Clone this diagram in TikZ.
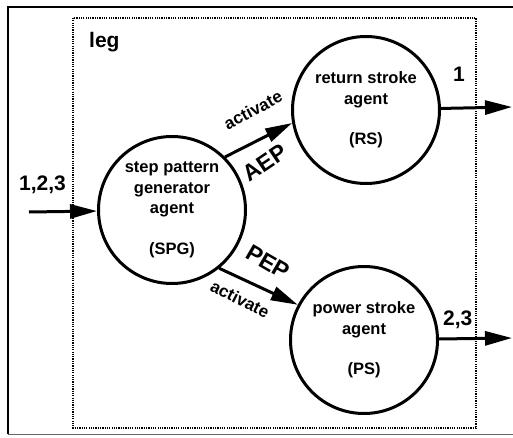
\documentclass[tikz,border=0pt]{standalone}
\usepackage{fontspec}
\setmainfont{Liberation Sans}
\usetikzlibrary{arrows.meta}
\begin{document}
\begin{tikzpicture}[x=1pt,y=-1pt,
  agent/.style={circle,draw,line width=3pt,minimum size=147pt,inner sep=0pt,align=center,
    font=\bfseries\fontsize{16.5}{20.5}\selectfont},
  flow/.style={line width=3pt,-{Triangle[length=27pt,width=14pt]}},
  biglabel/.style={font=\bfseries\fontsize{21}{21}\selectfont,inner sep=0pt},
  eventlabel/.style={font=\bfseries\fontsize{23}{23}\selectfont,inner sep=0pt},
  actlabel/.style={font=\bfseries\fontsize{17}{17}\selectfont,inner sep=0pt},
  dotbox/.style={line width=1.7pt,dash pattern=on 1.2pt off 1.1pt}
]
\clip (0,0) rectangle (513,438);
\useasboundingbox (0,0) rectangle (513,438);
% outer frame
\draw[line width=2pt] (520,7) -- (8,7) -- (8,434);
\draw[line width=1pt,black!60] (8,434) -- (520,434);
% dotted leg box
\draw[dotbox] (73,18) rectangle (476,428);
\node[anchor=base west,inner sep=0pt,font=\bfseries\fontsize{21}{21}\selectfont] (leg) at (89,48) {leg};
% agents
\node[agent] (SPG) at (172,210) {step pattern\\generator\\agent\\[20pt](SPG)};
\node[agent] (RS) at (366,110) {return stroke\\agent\\[20pt](RS)};
\node[agent] (PS) at (364,340) {power stroke\\agent\\[20pt](PS)};
% free ends
\coordinate (in) at (29,212);
\coordinate (out1) at (512,107);
\coordinate (out2) at (512,338);
% connectors
\draw[flow] (in) -- (SPG);
\draw[flow] (SPG.45) -- (RS.190);
\draw[flow] (SPG.-51) -- (PS.152);
\draw[flow] (RS) -- (out1);
\draw[flow] (PS) -- (out2);
% labels
\node[biglabel,anchor=base west] (l123) at (19,191) {1,2,3};
\node[biglabel,anchor=base west] (l1) at (453,82) {1};
\node[biglabel,anchor=base west] (l23) at (443,325) {2,3};
\node[actlabel,rotate=28] (act1) at (253,110) {activate};
\node[actlabel,rotate=-27] (act2) at (240,299) {activate};
\node[eventlabel,rotate=34] (aep) at (265,163) {AEP};
\node[eventlabel,rotate=-30] (pep) at (268,262) {PEP};
\end{tikzpicture}
\end{document}
